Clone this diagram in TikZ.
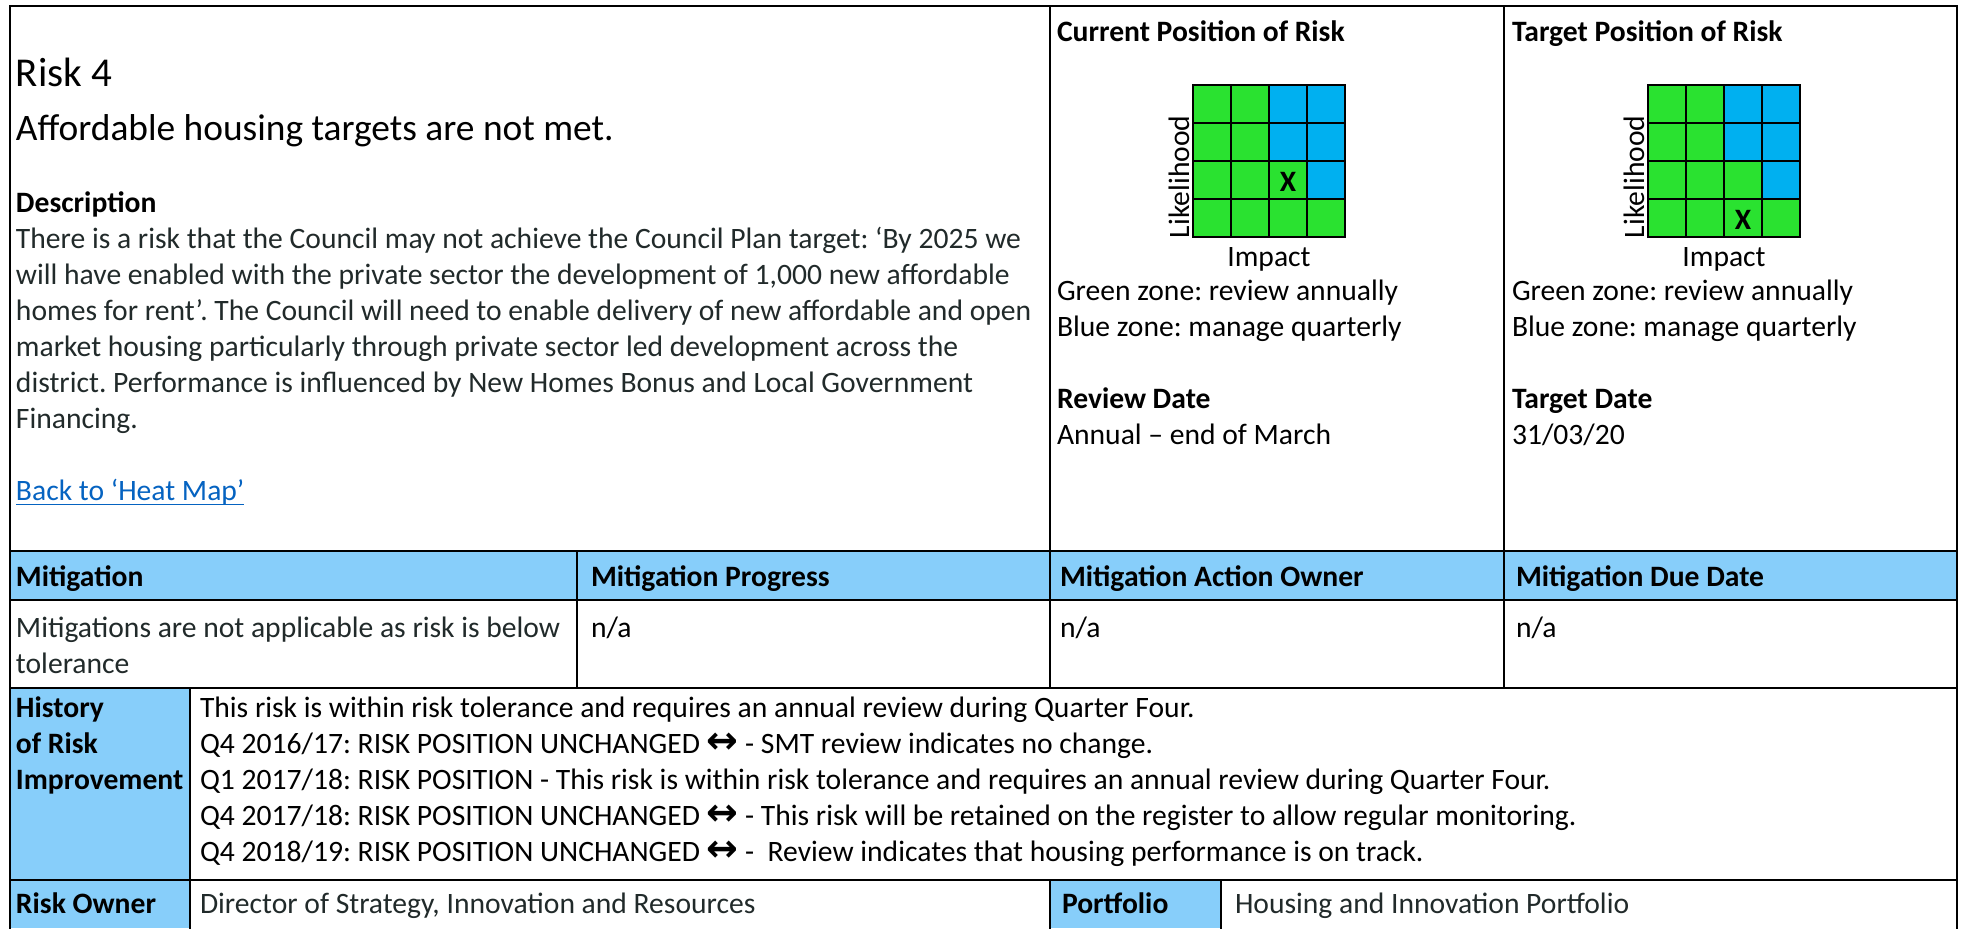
\documentclass[tikz,border=0pt]{standalone}
\usepackage{fontspec}
\setmainfont{Carlito}
\newfontfamily\symf{DejaVu Sans}
\frenchspacing
\definecolor{hdrblue}{RGB}{135,206,250}
\definecolor{zgreen}{RGB}{42,226,48}
\definecolor{zblue}{RGB}{0,176,240}
\definecolor{dtext}{RGB}{33,42,42}
\definecolor{linkblue}{RGB}{5,99,193}
\newcommand{\lrarr}{{\symf\bfseries\fontsize{19}{18}\selectfont ↔}}
\begin{document}
\begin{tikzpicture}[x=0.5pt,y=-0.5pt,
  tx/.style={anchor=base west,inner sep=0pt,outer sep=0pt,font=\fontsize{14.8}{18}\selectfont\frenchspacing},
  txd/.style={tx,text=dtext},
  txb/.style={tx,font=\fontsize{14.8}{18}\selectfont\bfseries\frenchspacing},
  rule/.style={line width=1.4pt,line cap=rect},
  gridline/.style={line width=1.4pt,line cap=rect},
  xmark/.style={inner sep=0pt,font=\fontsize{14.8}{18}\selectfont\bfseries}]
\useasboundingbox (0,0) rectangle (1962,928);
\fill[white] (0,0) rectangle (1962,928);
% fills
\fill[hdrblue] (10,551) rectangle (1957,600);
\fill[hdrblue] (10,688) rectangle (190,928);
\fill[hdrblue] (1050,880) rectangle (1221,928);
% heat maps
\foreach \gx in {1193,1648} {
  \fill[zgreen] (\gx,85) rectangle ++(152,152);
  \fill[zblue] (\gx+76,85) rectangle ++(76,76);
  \fill[zblue] (\gx+114,161) rectangle ++(38,38);
  \foreach \i in {0,...,4} {
    \draw[gridline] (\gx+38*\i,85) -- (\gx+38*\i,237);
    \draw[gridline] (\gx,85+38*\i) -- (\gx+152,85+38*\i);
  }
}
\node[xmark] (curx) at (1288,182) {X};
\node[xmark] (tgtx) at (1743,220) {X};
\node[tx,rotate=90] (curlik) at (1189,238) {Likelihood};
\node[tx,rotate=90] (tgtlik) at (1644,238) {Likelihood};
\node[tx,anchor=base] (curimp) at (1269,266) {Impact};
\node[tx,anchor=base] (tgtimp) at (1724,266) {Impact};
% table rules
\draw[rule] (10,928) -- (10,6) -- (1957,6) -- (1957,928);
\draw[rule] (1050,6) -- (1050,688);
\draw[rule] (1504,6) -- (1504,688);
\draw[rule] (577,551) -- (577,688);
\draw[rule] (190,688) -- (190,928);
\draw[rule] (1050,880) -- (1050,928);
\draw[rule] (1221,880) -- (1221,928);
\foreach \yy in {551,600,688,880} {\draw[rule] (10,\yy) -- (1957,\yy);}
% left top cell
\node[tx,font=\fontsize{20.5}{24}\selectfont] (risk) at (16,86) {Risk 4};
\node[tx,font=\fontsize{18.7}{22}\selectfont\frenchspacing] (title) at (16,140) {Affordable housing targets are not met.};
\node[txb] (desc) at (16,212) {Description};
\node[txd] (d1) at (16,248) {There is a risk that the Council may not achieve the Council Plan target: ‘By 2025 we};
\node[txd] (d2) at (16,284) {will have enabled with the private sector the development of 1,000 new affordable};
\node[txd] (d3) at (16,320) {homes for rent’. The Council will need to enable delivery of new affordable and open};
\node[txd] (d4) at (16,356) {market housing particularly through private sector led development across the};
\node[txd] (d5) at (16,392) {district. Performance is influenced by New Homes Bonus and Local Government};
\node[txd] (d6) at (16,428) {Financing.};
\node[tx,text=linkblue] (link) at (16,500) {Back to ‘Heat Map’};
\draw[linkblue,line width=0.9pt] ([yshift=-2.2pt]link.base west) -- ([yshift=-2.2pt]link.base east);
% current position
\node[txb] (curh) at (1057,41) {Current Position of Risk};
\node[tx] (curg) at (1057,300) {Green zone: review annually};
\node[tx] (curb) at (1057,336) {Blue zone: manage quarterly};
\node[txb] (revh) at (1057,408) {Review Date};
\node[tx] (revd) at (1057,444) {Annual – end of March};
% target position
\node[txb] (tgth) at (1512,41) {Target Position of Risk};
\node[tx] (tgtg) at (1512,300) {Green zone: review annually};
\node[tx] (tgtb) at (1512,336) {Blue zone: manage quarterly};
\node[txb] (tdh) at (1512,408) {Target Date};
\node[tx] (tdd) at (1512,444) {31/03/20};
% mitigation header
\node[txb] (mh1) at (16,586) {Mitigation};
\node[txb] (mh2) at (591,586) {Mitigation Progress};
\node[txb] (mh3) at (1060,586) {Mitigation Action Owner};
\node[txb] (mh4) at (1516,586) {Mitigation Due Date};
\node[txd] (m1a) at (16,637) {Mitigations are not applicable as risk is below};
\node[txd] (m1b) at (16,673) {tolerance};
\node[tx] (m2) at (591,637) {n/a};
\node[tx] (m3) at (1060,637) {n/a};
\node[tx] (m4) at (1516,637) {n/a};
% history
\node[txb] (hh1) at (16,717) {History};
\node[txb] (hh2) at (16,753) {of Risk};
\node[txb] (hh3) at (16,789) {Improvement};
\node[tx] (h1) at (200,717) {This risk is within risk tolerance and requires an annual review during Quarter Four.};
\node[tx] (h2) at (200,753) {Q4 2016/17: RISK POSITION UNCHANGED \lrarr{} - SMT review indicates no change.};
\node[tx] (h3) at (200,789) {Q1 2017/18: RISK POSITION - This risk is within risk tolerance and requires an annual review during Quarter Four.};
\node[tx] (h4) at (200,825) {Q4 2017/18: RISK POSITION UNCHANGED \lrarr{} - This risk will be retained on the register to allow regular monitoring.};
\node[tx] (h5) at (200,861) {Q4 2018/19: RISK POSITION UNCHANGED \lrarr{} -\ \ Review indicates that housing performance is on track.};
% owner row
\node[txb] (ro) at (16,913) {Risk Owner};
\node[txd] (rod) at (200,913) {Director of Strategy, Innovation and Resources};
\node[txb] (pf) at (1062,913) {Portfolio};
\node[txd] (pfd) at (1235,913) {Housing and Innovation Portfolio};
\end{tikzpicture}
\end{document}
